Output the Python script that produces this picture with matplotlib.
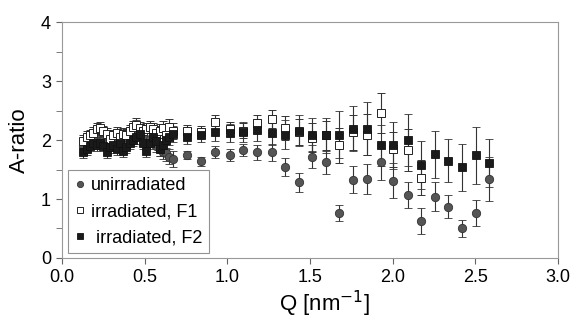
import matplotlib
matplotlib.use("Agg")
import matplotlib.pyplot as plt
from matplotlib.ticker import MultipleLocator

plt.rcParams["font.family"] = ["Liberation Sans", "DejaVu Sans"]

# dense low-Q region
q_low = [0.13, 0.15, 0.17, 0.19, 0.21, 0.23, 0.25, 0.27, 0.29, 0.31, 0.33, 0.35, 0.37, 0.39,
         0.41, 0.43, 0.45, 0.47, 0.49, 0.51, 0.53, 0.55, 0.57, 0.59, 0.61, 0.63, 0.65, 0.67]
unirr_low = [1.90, 1.95, 1.98, 2.00, 2.02, 1.98, 2.00, 1.95, 1.92, 1.98, 2.02, 1.95, 2.00, 2.05,
             2.10, 2.18, 2.22, 2.15, 2.05, 1.95, 2.02, 1.98, 1.90, 1.85, 1.80, 1.78, 1.72, 1.68]
f1_low = [1.98, 2.05, 2.08, 2.12, 2.18, 2.20, 2.15, 2.10, 2.02, 2.08, 2.12, 2.05, 2.10, 2.08,
          2.15, 2.22, 2.25, 2.20, 2.15, 2.18, 2.22, 2.18, 2.12, 2.15, 2.20, 2.08, 2.22, 2.15]
f2_low = [1.80, 1.85, 1.90, 1.95, 1.92, 1.95, 1.90, 1.80, 1.88, 1.92, 1.85, 1.95, 1.82, 1.88,
          1.95, 2.00, 2.05, 2.10, 1.95, 1.82, 1.95, 2.05, 1.98, 1.85, 1.92, 2.00, 2.05, 2.10]
err_low = [0.10, 0.10, 0.09, 0.10, 0.11, 0.10, 0.09, 0.10, 0.10, 0.09, 0.10, 0.11, 0.10, 0.10,
           0.10, 0.11, 0.12, 0.10, 0.10, 0.11, 0.10, 0.10, 0.11, 0.12, 0.12, 0.14, 0.13, 0.14]

# sparse high-Q region
q_high = [0.758, 0.843, 0.925, 1.016, 1.097, 1.181, 1.268, 1.351, 1.431, 1.514, 1.595, 1.675,
          1.762, 1.843, 1.927, 2.004, 2.091, 2.171, 2.256, 2.337, 2.421, 2.502, 2.585]
unirr_high = [1.74, 1.64, 1.79, 1.74, 1.83, 1.79, 1.79, 1.54, 1.28, 1.72, 1.62, 0.76,
              1.33, 1.34, 1.62, 1.31, 1.07, 0.62, 1.04, 0.87, 0.50, 0.76, 1.34]
unirr_err = [0.07, 0.08, 0.10, 0.10, 0.10, 0.13, 0.14, 0.15, 0.16, 0.20, 0.20, 0.14,
             0.23, 0.25, 0.30, 0.30, 0.22, 0.22, 0.24, 0.20, 0.14, 0.22, 0.38]
f2_high = [2.05, 2.08, 2.14, 2.12, 2.14, 2.17, 2.12, 2.09, 2.16, 2.09, 2.08, 2.09,
           2.19, 2.19, 1.91, 1.91, 2.00, 1.58, 1.76, 1.65, 1.54, 1.74, 1.61]
f2_err = [0.12, 0.12, 0.15, 0.15, 0.17, 0.18, 0.20, 0.25, 0.27, 0.28, 0.30, 0.40,
          0.38, 0.45, 0.35, 0.40, 0.44, 0.41, 0.40, 0.37, 0.40, 0.48, 0.40]
q_f1 = q_high[:18]
f1_high = [2.16, 2.14, 2.31, 2.19, 2.16, 2.28, 2.36, 2.20, 2.13, 2.04, 2.08, 1.91,
           2.13, 2.09, 2.46, 1.84, 1.83, 1.36]
f1_err = [0.10, 0.10, 0.12, 0.12, 0.13, 0.15, 0.15, 0.20, 0.22, 0.25, 0.25, 0.30,
          0.30, 0.35, 0.34, 0.30, 0.35, 0.30]

fig = plt.figure(figsize=(5.72, 3.32), dpi=100)
ax = fig.add_axes([0.1084, 0.2229, 0.8671, 0.7108])

ebar = dict(ecolor="#333333", elinewidth=0.8, capsize=3, capthick=0.8, linestyle="none")

ax.errorbar(q_low + q_high, unirr_low + unirr_high, yerr=err_low + unirr_err, fmt="o",
            ms=6, mfc="#555555", mec="#333333", mew=0.6, label="unirradiated", **ebar)
ax.errorbar(q_low + q_f1, f1_low + f1_high, yerr=err_low + f1_err, fmt="s",
            ms=6, mfc="white", mec="#222222", mew=0.7, label="irradiated, F1", **ebar)
ax.errorbar(q_low + q_high, f2_low + f2_high, yerr=err_low + f2_err, fmt="s",
            ms=6, mfc="#1a1a1a", mec="#111111", mew=0.6, label=" irradiated, F2", **ebar)

ax.set_xlim(0, 3.0)
ax.set_ylim(0, 4)
ax.xaxis.set_major_locator(MultipleLocator(0.5))
ax.yaxis.set_major_locator(MultipleLocator(1))
ax.yaxis.set_minor_locator(MultipleLocator(0.5))
ax.xaxis.set_major_formatter(plt.FuncFormatter(lambda v, _: f"{v:.1f}"))

for s in ax.spines.values():
    s.set_color("#999999")
    s.set_linewidth(0.8)
ax.tick_params(axis="both", which="both", direction="out", color="#666666", labelsize=13)
ax.tick_params(axis="both", which="major", length=4, pad=4)
ax.tick_params(axis="y", which="minor", length=4)

ax.set_xlabel("Q [nm$^{-1}$]", fontsize=16, labelpad=6)
ax.xaxis.set_label_coords(0.53, -0.13)
ax.set_ylabel("A-ratio", fontsize=16, labelpad=8)

handles, labels = ax.get_legend_handles_labels()
handles = [h[0] for h in handles]  # marker only, no error bar in the key
leg = ax.legend(handles, labels, loc="lower left", bbox_to_anchor=(0.012, 0.02),
                frameon=True, fancybox=False, handlelength=0.5, handletextpad=0.35,
                borderpad=0.4, labelspacing=0.5, borderaxespad=0,
                prop={"family": ["Liberation Sans Narrow", "Liberation Sans"], "size": 13})
leg.get_frame().set_edgecolor("#777777")
leg.get_frame().set_linewidth(0.8)
for h in leg.legend_handles:
    h.set_markersize(4.5)

fig.savefig("out.png", dpi=100)
